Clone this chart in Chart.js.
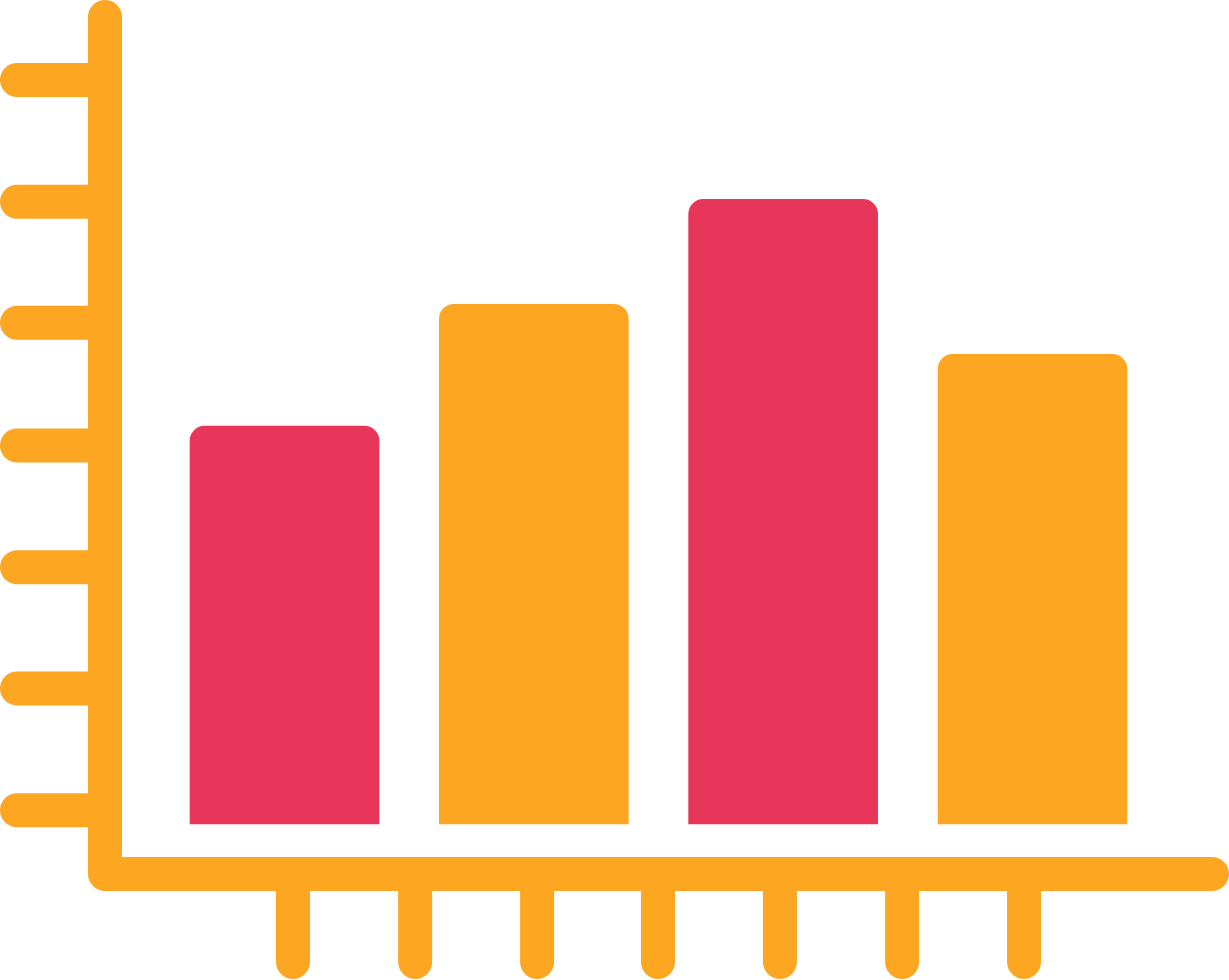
<!DOCTYPE html>
<html>
<head>
<meta charset="utf-8">
<script src="https://cdn.jsdelivr.net/npm/chart.js@4/dist/chart.umd.min.js"></script>
<style>
  html, body { margin: 0; padding: 0; background: #ffffff; }
  #wrap { width: 1229px; height: 980px; }
</style>
</head>
<body>
<div id="wrap"><canvas id="c" width="1229" height="980"></canvas></div>
<script>
// ---- data ----
const categories = [1, 2, 3, 4];
const barValues = [49.3, 64.4, 77.4, 58.2];
const barColors = ['#E8365B', '#FCA622', '#E8365B', '#FCA622'];
// decorative axis tick positions (in scale units)
const yTickValues = [1.7, 16.8, 31.8, 46.9, 62.1, 77.1, 92.2];
const xTickValues = [1.034, 1.524, 2.013, 2.498, 2.987, 3.477, 3.966];

const AXIS_COLOR = '#FCA622';
const AXIS_WIDTH = 34;
const TICK_LEN = 88;

const axisFrame = {
  id: 'axisFrame',
  beforeDatasetsDraw(chart) {
    const { ctx, scales: { x, y } } = chart;
    const x0 = x.getPixelForValue(x.min);
    const x1 = x.getPixelForValue(x.max);
    const y0 = y.getPixelForValue(y.min);
    const y1 = y.getPixelForValue(y.max);
    ctx.save();
    ctx.strokeStyle = AXIS_COLOR;
    ctx.lineWidth = AXIS_WIDTH;
    ctx.lineCap = 'round';
    ctx.lineJoin = 'round';
    // main axis
    ctx.beginPath();
    ctx.moveTo(x0, y1);
    ctx.lineTo(x0, y0);
    ctx.lineTo(x1, y0);
    ctx.stroke();
    // y ticks
    yTickValues.forEach(v => {
      const py = y.getPixelForValue(v);
      ctx.beginPath();
      ctx.moveTo(x0 - TICK_LEN, py);
      ctx.lineTo(x0, py);
      ctx.stroke();
    });
    // x ticks
    xTickValues.forEach(v => {
      const px = x.getPixelForValue(v);
      ctx.beginPath();
      ctx.moveTo(px, y0);
      ctx.lineTo(px, y0 + TICK_LEN);
      ctx.stroke();
    });
    ctx.restore();
  }
};

new Chart(document.getElementById('c'), {
  type: 'bar',
  data: {
    datasets: [{
      data: categories.map((c, i) => ({ x: c, y: barValues[i] })),
      backgroundColor: barColors,
      borderWidth: 0,
      borderRadius: { topLeft: 15, topRight: 15, bottomLeft: 0, bottomRight: 0 },
      borderSkipped: false,
      barThickness: 189
    }]
  },
  options: {
    responsive: false,
    animation: false,
    devicePixelRatio: 1,
    layout: { padding: { left: 105, top: 17, right: 17, bottom: 106 } },
    plugins: { legend: { display: false }, tooltip: { enabled: false } },
    scales: {
      x: { type: 'linear', min: 0.28, max: 4.72, offset: false, display: false },
      y: { type: 'linear', min: -6.2, max: 100, display: false }
    }
  },
  plugins: [axisFrame]
});
</script>
</body>
</html>
